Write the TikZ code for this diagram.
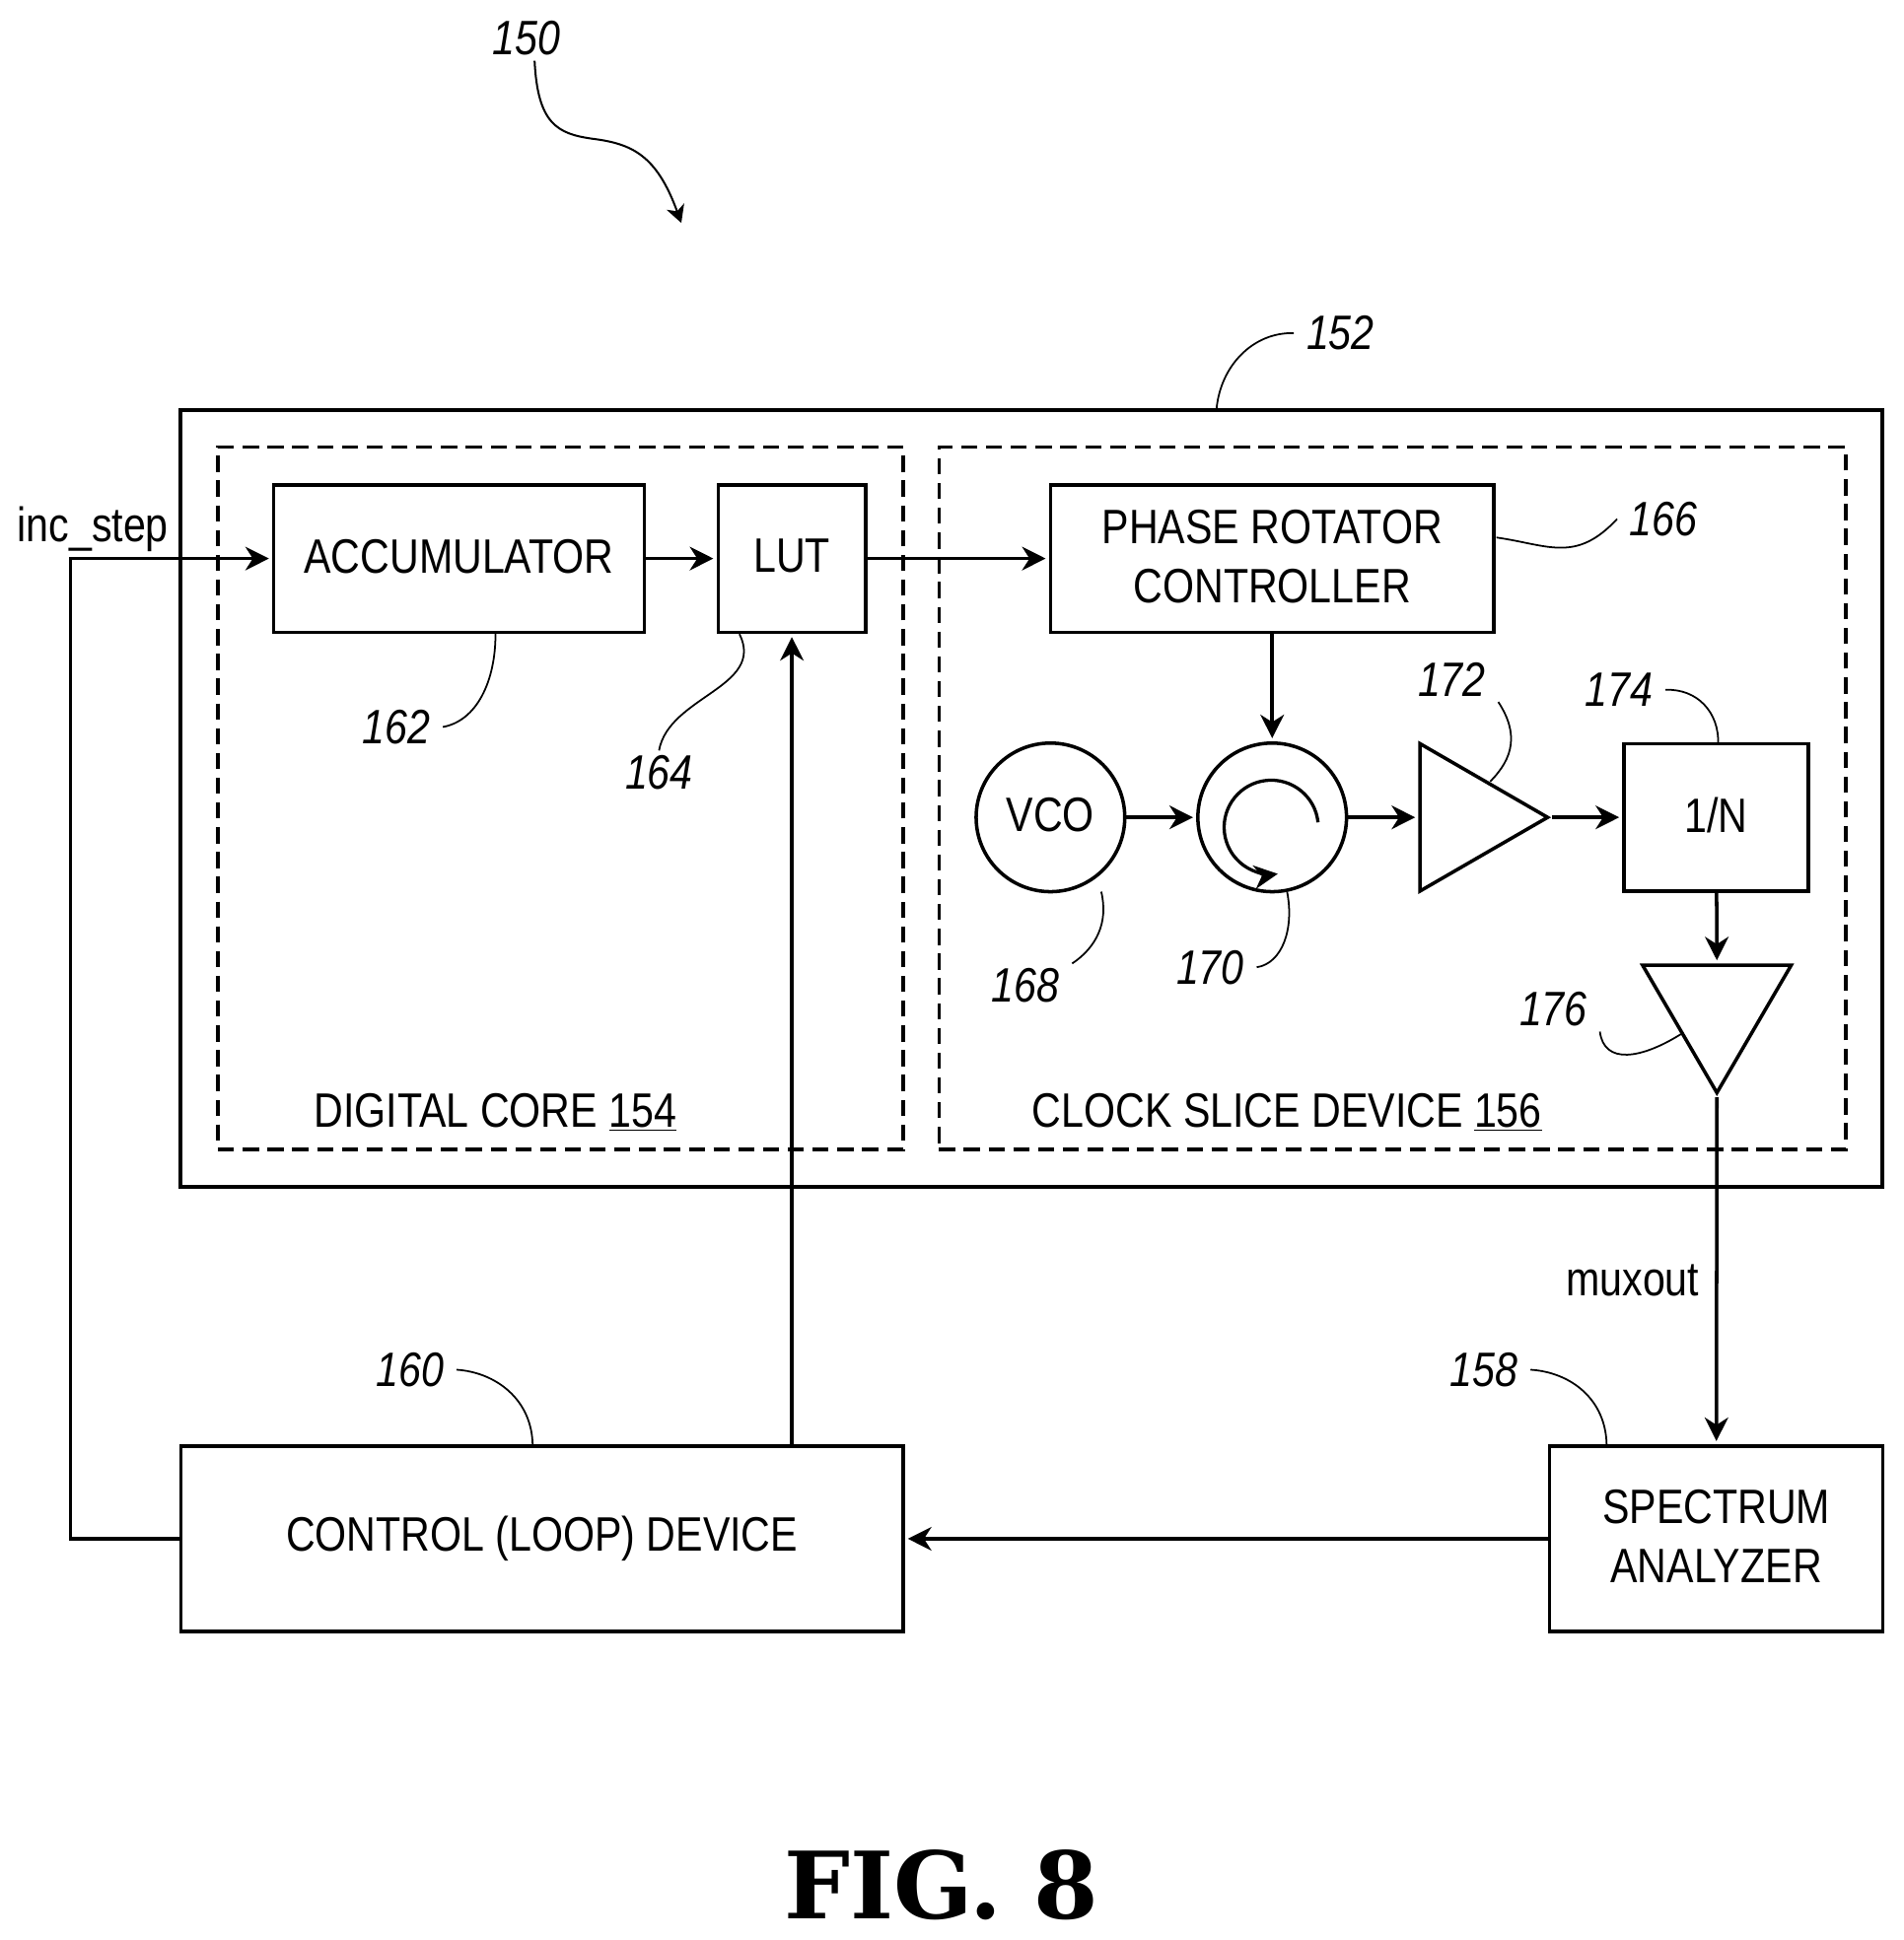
\documentclass[tikz,border=0pt]{standalone}
\usepackage{fontspec}
\setmainfont[FakeStretch=0.84]{Liberation Sans}
\newfontfamily\figfont{DejaVu Serif}
\usetikzlibrary{arrows.meta,shapes.geometric}
\tikzset{
  block/.style={shape=rectangle,draw=black,line width=2.8pt,inner sep=0pt,align=center,text depth=4pt,font=\fontsize{39}{47.5}\selectfont},
  frame/.style={shape=rectangle,draw=black,line width=2.8pt,dash pattern=on 13pt off 7pt,inner sep=0pt},
  round/.style={shape=circle,draw=black,line width=2.8pt,inner sep=0pt,minimum size=120pt,text depth=4pt,font=\fontsize{39}{47}\selectfont},
  amp/.style={isosceles triangle,isosceles triangle stretches,draw=black,line width=2.8pt,inner sep=0pt,anchor=apex},
  label/.style={font=\fontsize{39}{47}\selectfont,inner sep=2pt},
  refnum/.style={font=\fontsize{39}{47}\selectfont\itshape,inner xsep=10pt,inner ysep=4pt},
  wire/.style={line width=2.8pt,shorten >=2.5pt},
  lead/.style={line width=1.4pt}
}
\begin{document}
\begin{tikzpicture}[x=1pt,y=-1pt,>={Stealth[length=19pt,width=19pt,inset=6pt]}]
    \useasboundingbox (0,0) rectangle (1537,1566.5);
    % boxes
    \node[frame,solid,line width=3.2pt,minimum width=1373.5pt,minimum height=627pt] (CHIP) at (832.75,644.5) {};
    \node[frame,minimum width=553pt,minimum height=567pt] (CORE) at (452.5,644.5) {};
    \node[frame,minimum width=732pt,minimum height=567pt] (SLICE) at (1124,644.5) {};
    \node[block,minimum width=299pt,minimum height=119pt] (ACC) at (370.5,451) {ACCUMULATOR};
    \node[block,minimum width=119pt,minimum height=119pt] (LUT) at (639.25,451) {LUT};
    \node[block,minimum width=358pt,minimum height=119pt] (PRC) at (1027,451) {PHASE ROTATOR\\CONTROLLER};
    \node[round] (VCO) at (848,660) {VCO};
    \node[round] (ROT) at (1027,660) {};
    \node[amp,minimum height=103pt,minimum width=119pt] (AMP) at (1253,660) {};
    \node[block,minimum width=149pt,minimum height=119pt] (DIV) at (1385.5,660) {1/N};
    \node[amp,shape border rotate=-90,minimum height=103pt,minimum width=120pt] (BUF) at (1386,886) {};
    \node[block,text depth=,minimum width=583pt,minimum height=150pt] (CTRL) at (437.5,1242.5) {CONTROL (LOOP) DEVICE};
    \node[block,minimum width=269pt,minimum height=150pt] (SPEC) at (1385.5,1242.5) {SPECTRUM\\ANALYZER};
    % texts
    \node[label] (CT) at (400,898) {DIGITAL CORE \underline{154}};
    \node[label] (ST) at (1039,898) {CLOCK SLICE DEVICE \underline{156}};
    \node[label] (INC) at (75,427) {inc\_step};
    \node[label] (MUX) at (1318,1034) {muxout};
    \node[font=\fontsize{75}{80}\selectfont\figfont\bfseries] (FIG) at (760,1522) {FIG.\ 8};
    % numbers
    \node[refnum] (N150) at (425,31) {150};
    \node[refnum] (N152) at (1082,269) {152};
    \node[refnum] (N166) at (1343,419) {166};
    \node[refnum] (N162) at (320,587) {162};
    \node[refnum] (N164) at (532,624) {164};
    \node[refnum] (N172) at (1172,549) {172};
    \node[refnum] (N174) at (1307,557) {174};
    \node[refnum] (N168) at (828,796) {168};
    \node[refnum] (N170) at (977,781) {170};
    \node[refnum] (N176) at (1254,815) {176};
    \node[refnum] (N160) at (331,1106) {160};
    \node[refnum] (N158) at (1198,1106) {158};
    % free ends
    \coordinate (TURN) at (57,451);
    \coordinate (ROTA) at (1064,664);
    \coordinate (P150) at (550,180);
    \coordinate (P152) at (982,331);
    \coordinate (P166) at (1208,434);
    \coordinate (P162) at (400,512);
    \coordinate (P164) at (597,512);
    \coordinate (P172) at (1203,631);
    \coordinate (P174) at (1387,601);
    \coordinate (P168) at (889,720);
    \coordinate (P170) at (1039,720);
    \coordinate (P176) at (1357,835);
    \coordinate (P160) at (430,1168);
    \coordinate (P158) at (1297,1168);
    % signal paths
    \path [->] (ACC) edge [wire] (LUT);
    \path [->] (LUT) edge [wire] (PRC);
    \path [->] (PRC) edge [wire] (ROT);
    \path [->] (VCO) edge [wire] (ROT);
    \path [->] (ROT.east) edge [wire] (AMP.lower side);
    \path [->] (AMP.apex) edge [wire] (DIV);
    \path [->] (DIV) edge [wire] (BUF.lower side);
    \path [->] (BUF.apex) edge [wire] (SPEC);
    \path [->] (SPEC) edge [wire] (CTRL);
    \path [->] (CTRL.north -| LUT) edge [wire] (LUT);
    \draw [->,wire] (CTRL.west) -| (TURN) -- (ACC);
    \draw [->,line width=2.6pt] (ROTA) arc [start angle=6,end angle=278,radius=38pt];
    % leaders
    \draw [->,lead,line width=1.6pt,>={Stealth[length=14pt,width=15pt,inset=4pt]}] (N150.-70) .. controls (434,100) and (450,108) .. (478,112) .. controls (510,116) and (530,125) .. (P150);
    \draw [lead] (N152.west) .. controls (1012,268) and (985,295) .. (P152);
    \draw [lead] (N166.west) .. controls (1272,455) and (1250,440) .. (P166);
    \draw [lead] (N162.east) .. controls (385,582) and (400,550) .. (P162);
    \draw [lead] (N164.north) .. controls (540,562) and (618,555) .. (P164);
    \draw [lead] (N172.south east) .. controls (1226,592) and (1222,612) .. (P172);
    \draw [lead] (N174.east) .. controls (1370,556) and (1388,575) .. (P174);
    \draw [lead] (N168.north east) .. controls (885,765) and (895,745) .. (P168);
    \draw [lead] (N170.east) .. controls (1035,778) and (1045,750) .. (P170);
    \draw [lead] (N176.south east) .. controls (1295,860) and (1325,855) .. (P176);
    \draw [lead] (N160.east) .. controls (400,1108) and (430,1130) .. (P160);
    \draw [lead] (N158.east) .. controls (1268,1108) and (1297,1130) .. (P158);
\end{tikzpicture}
\end{document}
